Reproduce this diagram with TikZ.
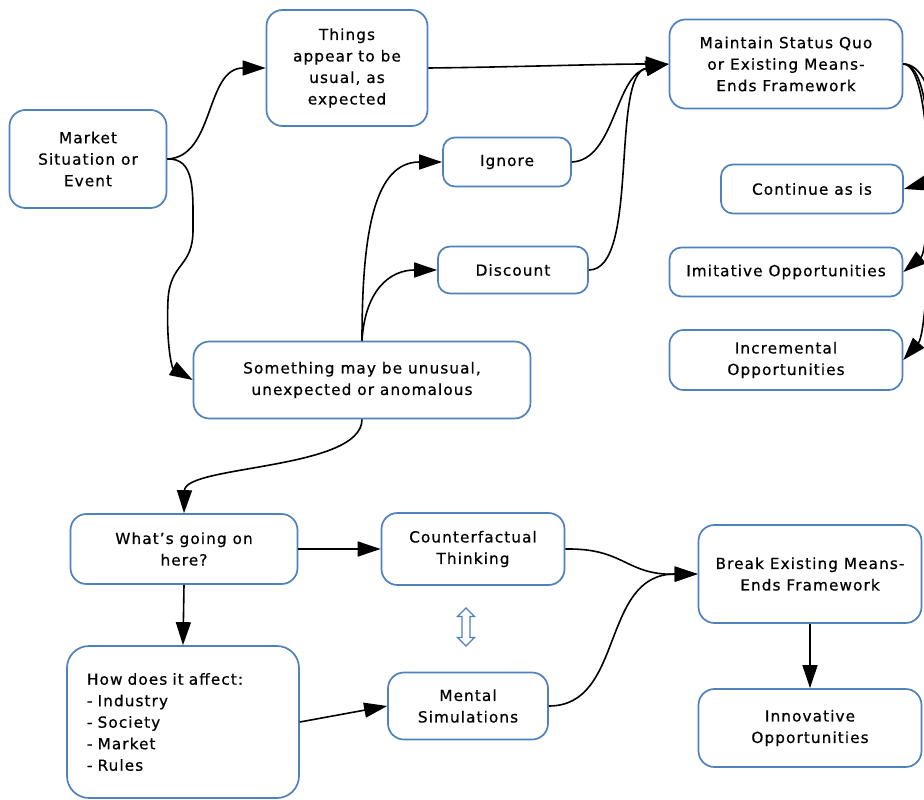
\documentclass[tikz,border=0pt]{standalone}
\usepackage{fontspec}
\setmainfont{DejaVu Sans}[LetterSpace=7,FakeBold=0.6]
\usetikzlibrary{arrows.meta,shapes.arrows}
\definecolor{boxblue}{RGB}{79,129,189}
\begin{document}
\begin{tikzpicture}[x=1pt,y=-1pt,
  box/.style={draw=boxblue,line width=1.7pt,rounded corners=16pt,fill=white,
    align=center,inner sep=2pt,font=\fontsize{15.3}{21.5}\selectfont},
  conn/.style={draw=black,line width=1.6pt,-{Triangle[length=23pt,width=15pt]}},
]
\useasboundingbox (0,0) rectangle (924,800);
\fill[white] (0,0) rectangle (924,800);
% nodes
\node[box,minimum width=157pt,minimum height=98pt] (mk) at (88,159) {Market\\Situation or\\Event};
\node[box,minimum width=161pt,minimum height=116pt] (th) at (347,68) {Things\\appear to be\\usual, as\\expected};
\node[box,minimum width=233pt,minimum height=89pt] (mq) at (786,64) {Maintain Status Quo\\or Existing Means-\\Ends Framework};
\node[box,minimum width=128pt,minimum height=49pt,rounded corners=12pt] (ig) at (507,162) {Ignore};
\node[box,minimum width=182pt,minimum height=49pt,rounded corners=12pt] (co) at (812,189) {Continue as is};
\node[box,minimum width=150pt,minimum height=47pt,rounded corners=12pt] (di) at (513,270) {Discount};
\node[box,minimum width=233pt,minimum height=49pt,rounded corners=12pt] (im) at (786,272) {Imitative Opportunities};
\node[box,minimum width=233pt,minimum height=60pt,rounded corners=14pt] (in) at (786,360) {Incremental\\Opportunities};
\node[box,minimum width=337pt,minimum height=77pt] (so) at (362,380) {Something may be unusual,\\unexpected or anomalous};
\node[box,minimum width=227pt,minimum height=70pt] (wg) at (184,549) {What's going on\\here?};
\node[box,minimum width=183pt,minimum height=72pt] (cf) at (473,549) {Counterfactual\\Thinking};
\node[box,minimum width=223pt,minimum height=98pt] (br) at (810,574) {Break Existing Means-\\Ends Framework};
\node[box,minimum width=232pt,minimum height=152pt,align=left,text width=192pt,rounded corners=22pt] (hw) at (183,722) {How does it affect:\\- Industry\\- Society\\- Market\\- Rules};
\node[box,minimum width=160pt,minimum height=67pt] (ms) at (468,706) {Mental\\Simulations};
\node[box,minimum width=223pt,minimum height=78pt] (iv) at (810,728) {Innovative\\Opportunities};
% double arrow
\node[double arrow,draw=boxblue,line width=1.3pt,fill=white,rotate=90,
  minimum height=38pt,minimum width=17pt,inner sep=2.5pt,
  double arrow head extend=3.5pt] (da) at (466,627) {};
% connectors
\path[conn] (mk.east) .. controls (215,157) and (205,68) .. (th.west);
\path[conn] (mk.east) .. controls (195,158) and (193,190) .. (193,230)
  .. controls (193,268) and (170,262) .. (168,300)
  .. controls (166,345) and (172,368) .. (so.west);
\path[conn] (th.east) .. controls (520,67) and (600,64) .. (mq.west);
\path[conn] (ig.east) .. controls (615,160) and (615,75) .. (mq.west);
\path[conn] (di.east) .. controls (640,270) and (610,75) .. (mq.west);
\path[conn] (so.north) .. controls (362,230) and (375,162) .. (ig.west);
\path[conn] (so.north) .. controls (365,290) and (390,270) .. (di.west);
\path[conn] (so.south) .. controls (362,470) and (185,465) .. (wg.north);
\path[conn] (wg.east) -- (cf.west);
\path[conn] (wg.south) -- (hw.north);
\path[conn] (hw.east) -- (ms.west);
\path[conn] (cf.east) .. controls (625,548) and (625,575) .. (br.west);
\path[conn] (ms.east) .. controls (625,706) and (600,574) .. (br.west);
\path[conn] (br.south) -- (iv.north);
\path[conn] (mq.east) .. controls (940,64) and (945,178) .. (co.east);
\path[conn] (mq.east) .. controls (940,64) and (930,250) .. (im.east);
\path[conn] (mq.east) .. controls (940,64) and (930,330) .. (in.east);
\end{tikzpicture}
\end{document}
